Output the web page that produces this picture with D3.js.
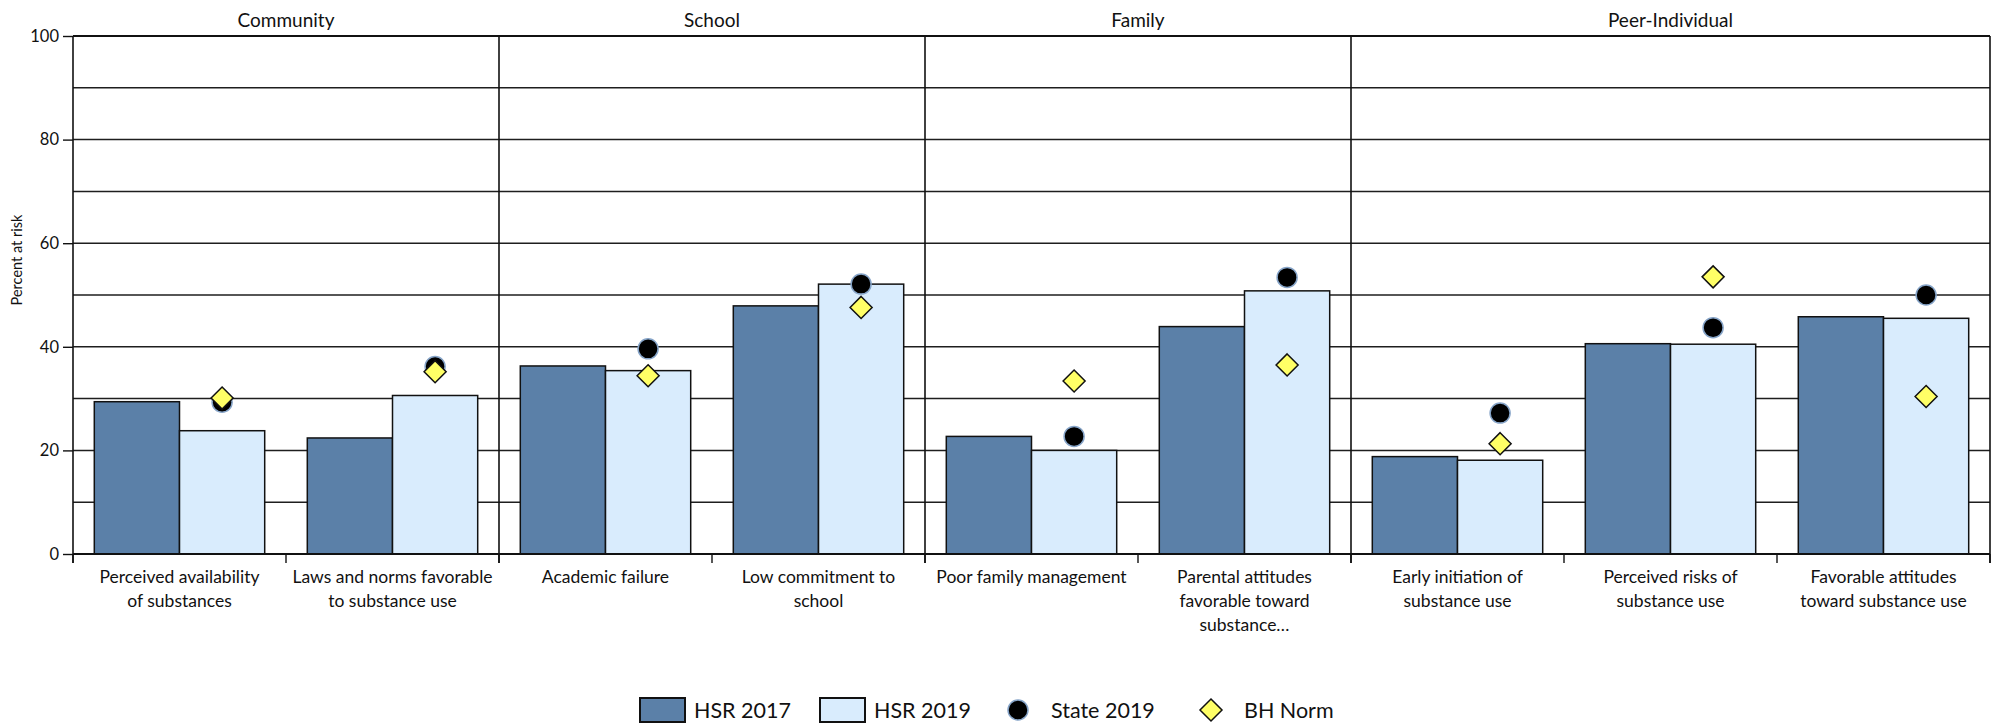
<!DOCTYPE html>
<html>
<head>
<meta charset="utf-8">
<script src="https://cdn.jsdelivr.net/npm/d3@7"></script>
<style>
  html, body { margin: 0; padding: 0; background: #ffffff; }
  svg { display: block; font-family: "Lato", "Open Sans", sans-serif; }
</style>
</head>
<body>
<svg id="chart" width="1999" height="726"></svg>
<script>
// ---------- data ----------
const categories = [
  "Perceived availability\nof substances",
  "Laws and norms favorable\nto substance use",
  "Academic failure",
  "Low commitment to\nschool",
  "Poor family management",
  "Parental attitudes\nfavorable toward\nsubstance…",
  "Early initiation of\nsubstance use",
  "Perceived risks of\nsubstance use",
  "Favorable attitudes\ntoward substance use"
];
const domains = ["Community", "School", "Family", "Peer-Individual"];
const domainSizes = [2, 2, 2, 3];
const hsr2017 = [29.4, 22.4, 36.3, 47.9, 22.7, 43.9, 18.8, 40.6, 45.8];
const hsr2019 = [23.8, 30.6, 35.4, 52.1, 20.0, 50.8, 18.1, 40.5, 45.5];
const state2019 = [29.3, 36.2, 39.6, 52.1, 22.7, 53.4, 27.2, 43.7, 50.0];
const bhNorm = [30.1, 35.2, 34.4, 47.6, 33.4, 36.5, 21.3, 53.5, 30.4];
const barSeries = ["HSR 2017", "HSR 2019"];
const yTicks = [0, 20, 40, 60, 80, 100];
const yGrid = [10, 20, 30, 40, 50, 60, 70, 80, 90];
const yLabel = "Percent at risk";

// ---------- layout ----------
const svg = d3.select("#chart");
const L = 73, R = 1990, T = 36, B = 554;
const colDark = "#5b80a8", colLight = "#d9ecfd";

const x = d3.scaleBand().domain(d3.range(categories.length)).range([L, R]).paddingInner(0).paddingOuter(0);
const step = x.bandwidth();
const xs = d3.scaleBand().domain(barSeries).range([step * 0.1, step * 0.9]);
const y = d3.scaleLinear().domain([0, 100]).range([B, T]);

// gridlines
svg.append("g").selectAll("line").data(yGrid).join("line")
  .attr("x1", L).attr("x2", R)
  .attr("y1", d => y(d)).attr("y2", d => y(d))
  .attr("stroke", "#1e1e1e").attr("stroke-width", 1.5);

// domain boundaries
const bounds = [0];
domainSizes.forEach(n => bounds.push(bounds[bounds.length - 1] + n));
const boundX = i => (i >= categories.length ? R : x(i));

// bars
const bars = svg.append("g");
categories.forEach((c, i) => {
  [hsr2017[i], hsr2019[i]].forEach((v, k) => {
    bars.append("rect")
      .attr("x", x(i) + xs(barSeries[k]))
      .attr("y", y(v))
      .attr("width", xs.bandwidth())
      .attr("height", y(0) - y(v))
      .attr("fill", k === 0 ? colDark : colLight)
      .attr("stroke", "#111").attr("stroke-width", 1.5);
  });
});

// vertical panel lines
svg.append("g").selectAll("line").data(bounds).join("line")
  .attr("x1", d => boundX(d)).attr("x2", d => boundX(d))
  .attr("y1", T).attr("y2", B + 9)
  .attr("stroke", "#111").attr("stroke-width", 1.6);

// category ticks at bottom
svg.append("g").selectAll("line").data(d3.range(categories.length + 1)).join("line")
  .attr("x1", d => boundX(d)).attr("x2", d => boundX(d))
  .attr("y1", B).attr("y2", B + 9)
  .attr("stroke", "#111").attr("stroke-width", 1.4);

// top border and bottom axis
svg.append("line").attr("x1", L).attr("x2", R).attr("y1", y(100)).attr("y2", y(100))
  .attr("stroke", "#111").attr("stroke-width", 2.2);
svg.append("line").attr("x1", L).attr("x2", R).attr("y1", y(0)).attr("y2", y(0))
  .attr("stroke", "#111").attr("stroke-width", 2.2);

// y axis
const yAxis = d3.axisLeft(y).tickValues(yTicks).tickSize(10).tickPadding(4);
const gy = svg.append("g").attr("transform", `translate(${L},0)`).call(yAxis);
gy.select(".domain").remove();
gy.selectAll(".tick line").attr("stroke", "#111").attr("stroke-width", 1.4);
gy.selectAll(".tick text").attr("font-family", "Lato, sans-serif").attr("font-size", 16.5).attr("fill", "#111");

svg.append("text")
  .attr("transform", `translate(22,260) rotate(-90)`)
  .attr("text-anchor", "middle")
  .attr("font-size", 14.5).attr("fill", "#111")
  .text(yLabel);

// markers
const markers = svg.append("g");
categories.forEach((c, i) => {
  const cx = x(i) + xs(barSeries[1]) + xs.bandwidth() / 2;
  markers.append("circle")
    .attr("cx", cx).attr("cy", y(state2019[i])).attr("r", 10)
    .attr("fill", "#000").attr("stroke", "#86a4c8").attr("stroke-width", 1.5);
});
categories.forEach((c, i) => {
  const cx = x(i) + xs(barSeries[1]) + xs.bandwidth() / 2;
  const cy = y(bhNorm[i]);
  const h = 11;
  markers.append("path")
    .attr("d", `M${cx},${cy - h}L${cx + h},${cy}L${cx},${cy + h}L${cx - h},${cy}Z`)
    .attr("fill", "#ffff66").attr("stroke", "#111").attr("stroke-width", 1.5);
});

// domain titles
svg.append("g").selectAll("text").data(domains).join("text")
  .attr("x", (d, i) => (boundX(bounds[i]) + boundX(bounds[i + 1])) / 2)
  .attr("y", 27)
  .attr("text-anchor", "middle")
  .attr("font-size", 19).attr("fill", "#111")
  .text(d => d);

// category labels
const cl = svg.append("g");
categories.forEach((c, i) => {
  const t = cl.append("text")
    .attr("x", x(i) + step / 2).attr("y", 583)
    .attr("text-anchor", "middle")
    .attr("font-size", 17.5).attr("fill", "#111");
  c.split("\n").forEach((line, j) => {
    t.append("tspan").attr("x", x(i) + step / 2).attr("dy", j === 0 ? 0 : 24).text(line);
  });
});

// legend
const legend = svg.append("g");
const ly = 710;
const legendItems = [
  { name: "HSR 2017", type: "rect", fill: colDark, x: 640, tx: 694 },
  { name: "HSR 2019", type: "rect", fill: colLight, x: 820, tx: 874 },
  { name: "State 2019", type: "circle", x: 1018, tx: 1051 },
  { name: "BH Norm", type: "diamond", x: 1211, tx: 1244 }
];
legendItems.forEach(it => {
  if (it.type === "rect") {
    legend.append("rect").attr("x", it.x).attr("y", ly - 12).attr("width", 45).attr("height", 24)
      .attr("fill", it.fill).attr("stroke", "#111").attr("stroke-width", 2);
  } else if (it.type === "circle") {
    legend.append("circle").attr("cx", it.x).attr("cy", ly).attr("r", 10)
      .attr("fill", "#000").attr("stroke", "#86a4c8").attr("stroke-width", 1.5);
  } else {
    const h = 11;
    legend.append("path")
      .attr("d", `M${it.x},${ly - h}L${it.x + h},${ly}L${it.x},${ly + h}L${it.x - h},${ly}Z`)
      .attr("fill", "#ffff66").attr("stroke", "#111").attr("stroke-width", 1.5);
  }
  legend.append("text").attr("x", it.tx).attr("y", ly).attr("dy", "0.35em")
    .attr("font-size", 21.5).attr("fill", "#111").text(it.name);
});
</script>
</body>
</html>
